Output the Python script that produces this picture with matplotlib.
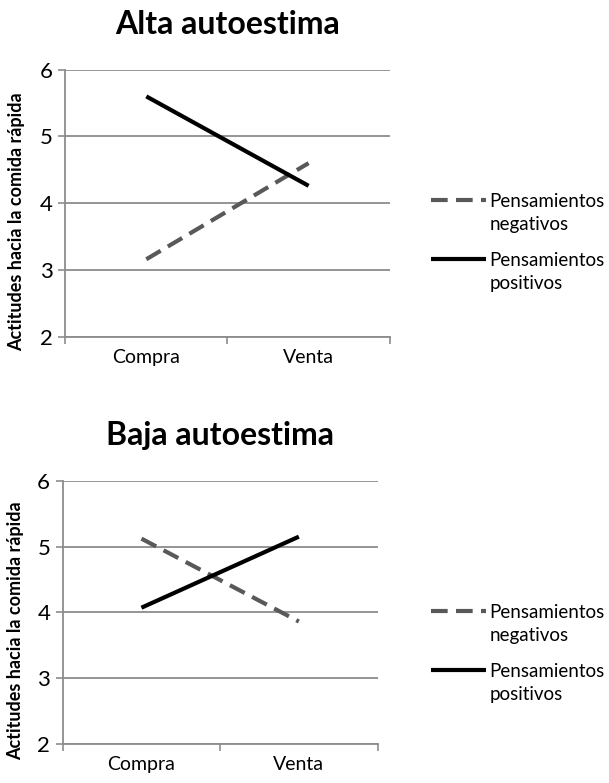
import numpy as np
import matplotlib.pyplot as plt
from matplotlib.legend_handler import HandlerLine2D

plt.rcParams['font.family'] = ['Lato', 'DejaVu Sans']

categories = ["Compra", "Venta"]
alta_negativos = [3.16, 4.60]
alta_positivos = [5.60, 4.26]
baja_negativos = [5.12, 3.86]
baja_positivos = [4.07, 5.15]
yticks = [2, 3, 4, 5, 6]

grid_color = "#8c8c8c"
neg_color = "#595959"


class RaisedHandler(HandlerLine2D):
    # put the legend line next to the first line of a two-line label
    def __init__(self, shift, **kw):
        super().__init__(**kw)
        self.shift = shift

    def create_artists(self, legend, orig_handle, xdescent, ydescent,
                       width, height, fontsize, trans):
        arts = super().create_artists(legend, orig_handle, xdescent, ydescent,
                                      width, height, fontsize, trans)
        for a in arts:
            a.set_ydata(np.asarray(a.get_ydata()) + self.shift * fontsize)
        return arts


def draw_panel(ax, title, neg, pos, legend_y):
    x = np.arange(len(categories)) + 0.5
    ln_neg, = ax.plot(x, neg, color=neg_color, lw=3.0, ls=(0, (4, 2)),
                      solid_capstyle="butt", dash_capstyle="butt",
                      label="Pensamientos\nnegativos")
    ln_pos, = ax.plot(x, pos, color="black", lw=3.0, solid_capstyle="butt",
                      label="Pensamientos\npositivos")
    ax.set_xlim(0, 2)
    ax.set_ylim(2, 6)
    ax.set_yticks(yticks)
    ax.set_xticks(x)
    ax.set_xticklabels(categories)
    ax.set_xticks([0, 1, 2], minor=True)
    ax.tick_params(axis="x", which="major", length=0, labelsize=14, pad=9)
    ax.tick_params(axis="x", which="minor", length=5, width=1.2, color=grid_color)
    ax.tick_params(axis="y", length=5, width=1.2, color=grid_color, labelsize=16, pad=4)
    ax.yaxis.grid(True, color=grid_color, lw=1.3)
    ax.set_axisbelow(True)
    for side in ["top", "right"]:
        ax.spines[side].set_visible(False)
    for side in ["left", "bottom"]:
        ax.spines[side].set_color(grid_color)
        ax.spines[side].set_linewidth(1.3)
    ax.set_ylabel("Actitudes hacia la comida rápida", fontsize=13, fontweight="bold")
    ax.yaxis.set_label_coords(-0.122, 0.43)
    ax.set_title(title, fontsize=23, fontweight="bold", pad=26)
    handler = RaisedHandler(0.75)
    leg = ax.legend(handles=[ln_neg, ln_pos], loc="center left",
                    bbox_to_anchor=(0.693, legend_y), bbox_transform=ax.figure.transFigure,
                    frameon=False, fontsize=13.5, handlelength=2.9, handletextpad=0.2,
                    labelspacing=1.0, borderpad=0,
                    handler_map={ln_neg: handler, ln_pos: handler})
    for t in leg.get_texts():
        t.set_linespacing(1.45)


fig = plt.figure(figsize=(6.09, 7.83), dpi=100)
ax1 = fig.add_axes([0.107, 0.570, 0.533, 0.341])
ax2 = fig.add_axes([0.103, 0.050, 0.517, 0.336])

draw_panel(ax1, "Alta autoestima", alta_negativos, alta_positivos, 0.690)
draw_panel(ax2, "Baja autoestima", baja_negativos, baja_positivos, 0.165)

fig.savefig("out.png", dpi=100)
